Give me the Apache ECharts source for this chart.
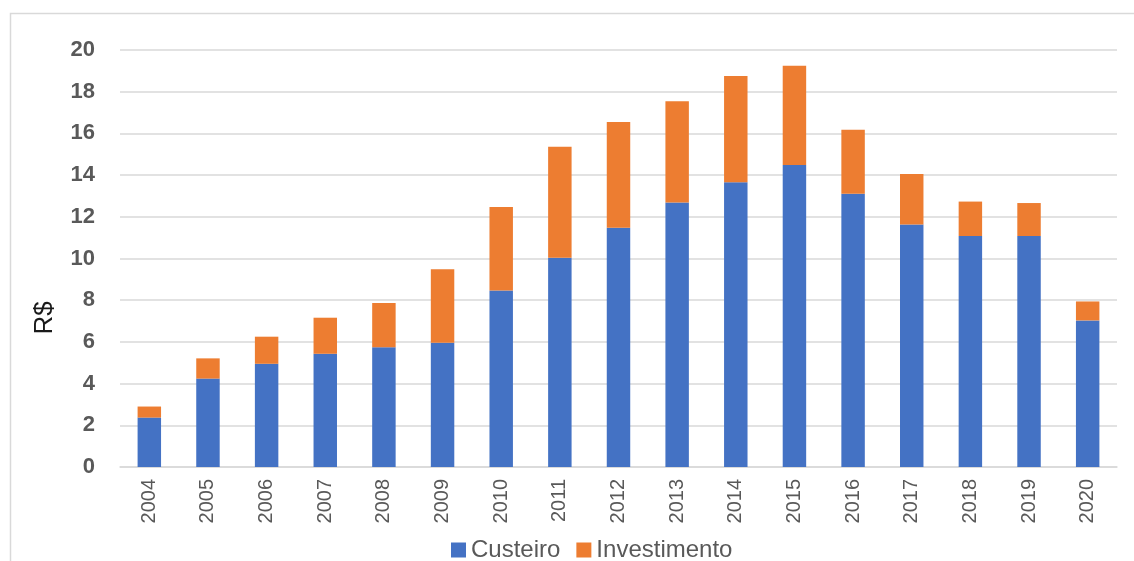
<!DOCTYPE html>
<html>
<head>
<meta charset="utf-8">
<script src="https://cdn.jsdelivr.net/npm/echarts@6/dist/echarts.min.js"></script>
<style>
html,body{margin:0;padding:0;background:#fff;}
#chart{width:1134px;height:561px;}
</style>
</head>
<body>
<div id="chart"></div>
<script>
const years = ['2004','2005','2006','2007','2008','2009','2010','2011','2012','2013','2014','2015','2016','2017','2018','2019','2020'];
const custeiro = [2.37, 4.24, 4.95, 5.43, 5.74, 5.96, 8.47, 10.03, 11.48, 12.68, 13.66, 14.48, 13.11, 11.63, 11.08, 11.08, 7.03];
const investimento = [0.53, 0.97, 1.30, 1.73, 2.13, 3.52, 4.00, 5.33, 5.07, 4.86, 5.09, 4.76, 3.06, 2.42, 1.65, 1.58, 0.91];
const yTicks = {min: 0, max: 20, interval: 2};
const seriesNames = ['Custeiro', 'Investimento'];
const yName = 'R$';

const chart = echarts.init(document.getElementById('chart'));
chart.setOption({
  animation: false,
  backgroundColor: '#ffffff',
  graphic: [
    {type: 'rect', left: 8, top: 11, shape: {width: 1140, height: 570}, style: {fill: 'none', stroke: '#d9d9d9', lineWidth: 1.5}, silent: true},
    {type: 'text', x: 45, y: 318, rotation: Math.PI / 2, style: {text: yName, font: '26px "Liberation Sans", Arial, sans-serif', fill: '#1a1a1a', align: 'center', verticalAlign: 'middle'}}
  ],
  legend: {
    top: 533,
    left: 446,
    itemWidth: 15,
    itemHeight: 15,
    itemGap: 16,
    icon: 'rect',
    textStyle: {fontSize: 24, color: '#595959', fontFamily: '"Liberation Sans", Arial, sans-serif'},
    data: seriesNames
  },
  grid: {left: 120, right: 17, top: 50, bottom: 94, containLabel: false},
  xAxis: {
    type: 'category',
    data: years,
    axisLine: {lineStyle: {color: '#d9d9d9', width: 1.5}},
    axisTick: {show: false},
    axisLabel: {rotate: 90, margin: 12, fontSize: 20, color: '#595959', fontFamily: '"Liberation Sans", Arial, sans-serif'}
  },
  yAxis: {
    type: 'value',
    min: yTicks.min, max: yTicks.max, interval: yTicks.interval,
    axisLine: {show: false},
    axisTick: {show: false},
    splitLine: {lineStyle: {color: '#d9d9d9', width: 1.5}},
    axisLabel: {margin: 25, fontSize: 22, fontWeight: 'bold', color: '#595959', fontFamily: '"Liberation Sans", Arial, sans-serif'}
  },
  series: [
    {name: seriesNames[0], type: 'bar', stack: 'total', data: custeiro, barWidth: '40%', itemStyle: {color: '#4472C4'}},
    {name: seriesNames[1], type: 'bar', stack: 'total', data: investimento, barWidth: '40%', itemStyle: {color: '#ED7D31'}}
  ]
});
</script>
</body>
</html>
